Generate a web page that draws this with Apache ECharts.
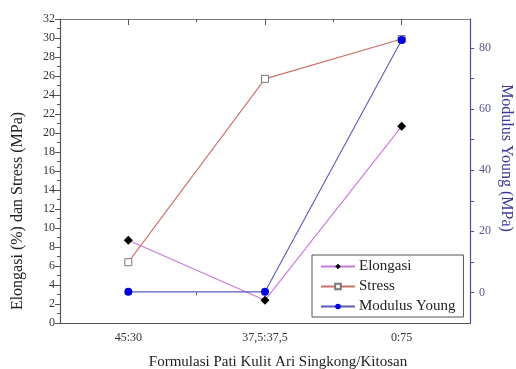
<!DOCTYPE html>
<html>
<head>
<meta charset="utf-8">
<script src="https://cdn.jsdelivr.net/npm/echarts@6/dist/echarts.min.js"></script>
<style>
  html, body { margin: 0; padding: 0; background: #fff; }
  #chart { width: 516px; height: 369px; }
</style>
</head>
<body>
<div id="chart"></div>
<script>
// formulasi (pati : kitosan)
const categories = ['45:30', '37,5:37,5', '0:75'];
const elongasi = [8.7, 2.4, 20.7];
const stress = [6.4, 25.7, 29.9];
const modulusYoung = [0.2, 0.2, 82.6];
const rightLabelValues = [0, 20, 40, 60, 80];
const rightTickValues = [0, 10, 20, 30, 40, 50, 60, 70, 80];

const serif = '"Liberation Serif", "DejaVu Serif", serif';
const chart = echarts.init(document.getElementById('chart'), null, { renderer: 'canvas' });

// extra category axes only for ticks (between-category short ticks, top mirror)
const tickAxis = (position, inside, length, align) => ({
  type: 'category',
  data: categories,
  position: position,
  axisLine: { show: false },
  axisLabel: { show: false },
  axisTick: { show: true, inside: inside, length: length, alignWithLabel: align, lineStyle: { color: '#555' } },
  splitLine: { show: false }
});

const option = {
  backgroundColor: '#fff',
  animation: false,
  grid: { left: 60, right: 46, top: 19, bottom: 46 },
  legend: {
    orient: 'vertical',
    left: 312,
    top: 255,
    width: 150,
    padding: [4, 8, 3, 8],
    itemWidth: 34,
    itemHeight: 7,
    itemGap: 5,
    borderColor: '#555',
    borderWidth: 1,
    backgroundColor: '#fff',
    textStyle: { fontFamily: serif, fontSize: 15, color: '#222', padding: [0, 0, 0, -1] },
    data: ['Elongasi', 'Stress', 'Modulus Young']
  },
  xAxis: [
    {
      type: 'category',
      data: categories,
      position: 'bottom',
      axisLine: { lineStyle: { color: '#555', width: 1.2 } },
      axisTick: { alignWithLabel: true, length: 6, lineStyle: { color: '#555' } },
      axisLabel: { fontFamily: serif, fontSize: 12, color: '#333', margin: 9 },
      splitLine: { show: false }
    },
    tickAxis('bottom', false, 3, false),
    Object.assign(tickAxis('top', true, 6, true), {
      axisLine: { show: true, lineStyle: { color: '#777', width: 1.2 } }
    }),
    tickAxis('top', true, 3, false)
  ],
  yAxis: [
    {
      type: 'value',
      position: 'left',
      min: 0,
      max: 32,
      interval: 2,
      axisLine: { show: true, lineStyle: { color: '#555', width: 1.2 } },
      axisTick: { show: true, length: 5, lineStyle: { color: '#555' } },
      minorTick: { show: true, splitNumber: 2, length: 3, lineStyle: { color: '#555' } },
      axisLabel: { fontFamily: serif, fontSize: 12, color: '#333', margin: 5 },
      splitLine: { show: false }
    },
    {
      type: 'value',
      position: 'right',
      min: -10,
      max: 89.5,
      axisLine: { show: true, lineStyle: { color: '#4a4aa6', width: 1.2 } },
      axisTick: { show: true, length: 4, customValues: rightTickValues, lineStyle: { color: '#4a4aa6' } },
      axisLabel: { fontFamily: serif, fontSize: 12, color: '#55558f', margin: 9, customValues: rightLabelValues },
      splitLine: { show: false }
    }
  ],
  series: [
    {
      name: 'Elongasi',
      type: 'line',
      data: elongasi,
      yAxisIndex: 0,
      symbol: 'diamond',
      symbolSize: 9,
      itemStyle: { color: '#000' },
      lineStyle: { color: '#cc77dd', width: 1.1 }
    },
    {
      name: 'Stress',
      type: 'line',
      data: stress,
      yAxisIndex: 0,
      symbol: 'rect',
      symbolSize: 7,
      itemStyle: { color: '#fff', borderColor: '#777', borderWidth: 1 },
      lineStyle: { color: '#cc6f66', width: 1.1 }
    },
    {
      name: 'Modulus Young',
      type: 'line',
      data: modulusYoung,
      yAxisIndex: 1,
      symbol: 'circle',
      symbolSize: 8,
      itemStyle: { color: '#0000dd' },
      lineStyle: { color: '#5a5ab8', width: 1.1 }
    }
  ],
  graphic: [
    {
      type: 'text',
      x: 18, y: 211,
      rotation: Math.PI / 2,
      style: {
        text: 'Elongasi (%) dan Stress (MPa)',
        fontFamily: serif, fontSize: 16, fill: '#222',
        align: 'center', verticalAlign: 'middle'
      }
    },
    {
      type: 'text',
      x: 506, y: 158,
      rotation: -Math.PI / 2,
      style: {
        text: 'Modulus Young (MPa)',
        fontFamily: serif, fontSize: 16, fill: '#3a3a96',
        align: 'center', verticalAlign: 'middle'
      }
    },
    {
      type: 'text',
      x: 278, y: 362,
      style: {
        text: 'Formulasi Pati Kulit Ari Singkong/Kitosan',
        fontFamily: serif, fontSize: 15, fill: '#222',
        align: 'center', verticalAlign: 'middle'
      }
    }
  ]
};

chart.setOption(option);
window.addEventListener('resize', () => chart.resize());
</script>
</body>
</html>
